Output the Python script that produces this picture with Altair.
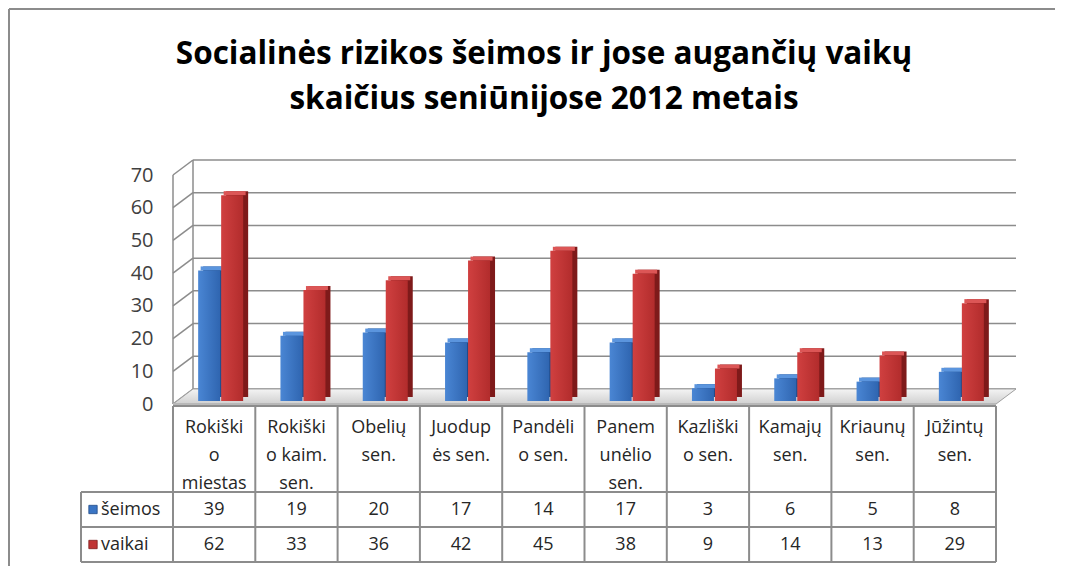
import altair as alt
import pandas as pd

# ---------------- data ----------------
categories = ["Rokiškio miestas", "Rokiškio kaim. sen.", "Obelių sen.", "Juodupės sen.",
              "Pandėlio sen.", "Panemunėlio sen.", "Kazliškio sen.", "Kamajų sen.",
              "Kriaunų sen.", "Jūžintų sen."]
header_lines = [["Rokiški", "o", "miestas"], ["Rokiški", "o kaim.", "sen."], ["Obelių", "sen."],
                ["Juodup", "ės sen."], ["Pandėli", "o sen."], ["Panem", "unėlio", "sen."],
                ["Kazliški", "o sen."], ["Kamajų", "sen."], ["Kriaunų", "sen."], ["Jūžintų", "sen."]]
seimos = [39, 19, 20, 17, 14, 17, 3, 6, 5, 8]
vaikai = [62, 33, 36, 42, 45, 38, 9, 14, 13, 29]
series_names = ["šeimos", "vaikai"]
y_ticks = [0, 10, 20, 30, 40, 50, 60, 70]
title_lines = ["Socialinės rizikos šeimos ir jose augančių vaikų",
               "skaičius seniūnijose 2012 metais"]

# ---------------- layout / style ----------------
W, H = 823, 229          # front plot area
DX, DY = 20, 15          # 3D depth
TH = 156                 # table height
HEAD_H, ROW_H = 86, 35
BW = 22                  # bar width
GRID = "#8c8c8c"
BORDER = "#8c8c8c"
FONT = "Open Sans"
TXT = "#262626"

df = pd.DataFrame({"cat": categories, "seimos": seimos, "vaikai": vaikai,
                   "lines": header_lines})
ticks_df = pd.DataFrame({"t": y_ticks})

xs = alt.Scale(domain=categories, paddingInner=0, paddingOuter=0)
ys = alt.Scale(domain=[0, 70], nice=False)
yaxis = alt.Axis(values=y_ticks, tickCount=8, grid=False, domain=False, ticks=False,
                 labelPadding=20, labelFontSize=20, labelFont=FONT,
                 labelOverlap=False, labelFlush=False, labelColor="#404040", title=None)
X = alt.X("cat:N", scale=xs, sort=categories, axis=None)

base = alt.Chart(df)
one = base.transform_filter("datum.cat == '%s'" % categories[0])
tb = alt.Chart(ticks_df)

# outer frame
frame_top = one.mark_rule(color=BORDER, strokeWidth=2).encode(
    x=alt.value(-164), x2=alt.value(882), y=alt.value(-166))
frame_left = one.mark_rule(color=BORDER, strokeWidth=2).encode(
    x=alt.value(-164), y=alt.value(-166), y2=alt.value(H + 2 + TH + 6))

title = one.mark_text(
    font=FONT, fontSize=31.5, fontWeight="bold", color="#000000", lineHeight=45,
    baseline="middle", align="center").encode(
    x=alt.value(371), y=alt.value(-120), text=alt.value(title_lines))

# walls / gridlines
diag = tb.mark_rule(color=GRID, strokeWidth=1.5, y2Offset=-DY).encode(
    x=alt.value(0), x2=alt.value(DX),
    y=alt.Y("t:Q", scale=ys, axis=yaxis),
    y2="t:Q")
back = tb.mark_rule(color=GRID, strokeWidth=1.5, yOffset=-DY).encode(
    x=alt.value(DX), x2=alt.value(W + DX), y=alt.Y("t:Q", scale=ys, axis=yaxis))
front_v = one.mark_rule(color=GRID, strokeWidth=1.5).encode(
    x=alt.value(0), y=alt.value(0), y2=alt.value(H))
back_v = one.mark_rule(color=GRID, strokeWidth=1.5).encode(
    x=alt.value(DX), y=alt.value(-DY), y2=alt.value(H - DY))

r = (W + DX) / 2.0
hy = (DY / 2.0) / r
fx = (W - r) / r
floor_path = "M -1 %.4f L %.4f %.4f L 1 %.4f L %.4f %.4f Z" % (hy, fx, hy, -hy, -fx, -hy)
floor = one.mark_point(
    shape=floor_path, size=(2 * r) ** 2, filled=True, opacity=1,
    fill=alt.LinearGradient(gradient="linear", x1=0, x2=0, y1=0, y2=1,
                            stops=[alt.GradientStop(color="#f4f4f4", offset=0),
                                   alt.GradientStop(color="#d0d0d0", offset=1)]),
    stroke="#a0a0a0", strokeWidth=1).encode(
    x=alt.value(r), y=alt.value(H - DY / 2.0))
floor_front = one.mark_rule(color="#b8b8b8", strokeWidth=3).encode(
    x=alt.value(0), x2=alt.value(W), y=alt.value(H + 0.5))


def grad(c1, c2):
    return alt.LinearGradient(gradient="linear", x1=0, x2=1, y1=0, y2=0,
                              stops=[alt.GradientStop(color=c1, offset=0),
                                     alt.GradientStop(color=c2, offset=1)])


bar_style = {
    "seimos": dict(off=-5, front=grad("#4a86d4", "#2f65b0"), top="#5b95de", side="#1f4a88",
                   solid="#3a75c4"),
    "vaikai": dict(off=18, front=grad("#d04040", "#b22c2c"), top="#dc5656", side="#7e1a1a",
                   solid="#c03535"),
}
bars = []
for key in ["seimos", "vaikai"]:
    s = bar_style[key]
    Y = alt.Y(f"{key}:Q", scale=ys, axis=yaxis)
    side = base.mark_bar(width=BW, xOffset=s["off"] + 5, yOffset=-10, y2Offset=-7,
                         color=s["side"]).encode(x=X, y=Y, y2=alt.datum(0))
    top = base.mark_bar(width=BW, xOffset=s["off"] + 2.5, yOffset=-10, y2Offset=-6,
                        color=s["top"]).encode(x=X, y=Y, y2=f"{key}:Q")
    front = base.mark_bar(width=BW, xOffset=s["off"], yOffset=-6, y2Offset=-3,
                          fill=s["front"]).encode(x=X, y=Y, y2=alt.datum(0))
    bars += [side, top, front]

top_chart = alt.layer(frame_top, frame_left, title, diag, back, front_v, back_v, floor,
                      floor_front, *bars).properties(width=W, height=H)

# ---------------- data table ----------------
Xt = alt.X("cat:N", scale=xs, sort=categories, axis=None)
vlines = base.mark_rule(color=BORDER, strokeWidth=2).encode(
    x=alt.X("cat:N", scale=xs, sort=categories, axis=None, bandPosition=0),
    y=alt.value(0), y2=alt.value(TH))
vline_end = one.mark_rule(color=BORDER, strokeWidth=2).encode(
    x=alt.value(W), y=alt.value(0), y2=alt.value(TH))
hline_top = one.mark_rule(color=BORDER, strokeWidth=2).encode(
    x=alt.value(0), x2=alt.value(W), y=alt.value(0))
hlines = [one.mark_rule(color=BORDER, strokeWidth=2).encode(
    x=alt.value(-92), x2=alt.value(W), y=alt.value(yy))
    for yy in [HEAD_H, HEAD_H + ROW_H, TH]]
vline_left = one.mark_rule(color=BORDER, strokeWidth=2).encode(
    x=alt.value(-92), y=alt.value(HEAD_H), y2=alt.value(TH))

head_txt = base.mark_text(font=FONT, fontSize=18, color=TXT, lineHeight=28,
                          baseline="top", align="center").encode(
    x=Xt, y=alt.value(13), text="lines")

row_txt = []
leg = []
for i, key in enumerate(["seimos", "vaikai"]):
    yc = HEAD_H + ROW_H * i + ROW_H / 2.0
    row_txt.append(base.mark_text(font=FONT, fontSize=18, color=TXT, baseline="middle",
                                  align="center").encode(x=Xt, y=alt.value(yc),
                                                         text=f"{key}:Q"))
    leg.append(one.mark_point(shape="square", size=70, filled=True, opacity=1,
                              fill=bar_style[key]["solid"],
                              stroke=bar_style[key]["side"], strokeWidth=0.8).encode(
        x=alt.value(-80), y=alt.value(yc)))
    leg.append(one.mark_text(font=FONT, fontSize=18, color=TXT, baseline="middle",
                             align="left").encode(x=alt.value(-72), y=alt.value(yc),
                                                  text=alt.value(series_names[i])))

table = alt.layer(vlines, vline_end, hline_top, *hlines, vline_left, head_txt,
                  *row_txt, *leg).properties(width=W, height=TH)

chart = alt.vconcat(top_chart, table, spacing=2, bounds="flush").configure_view(
    stroke=None).properties(padding=0)

chart.save("out.html", embed_options={"renderer": "svg", "actions": False})
